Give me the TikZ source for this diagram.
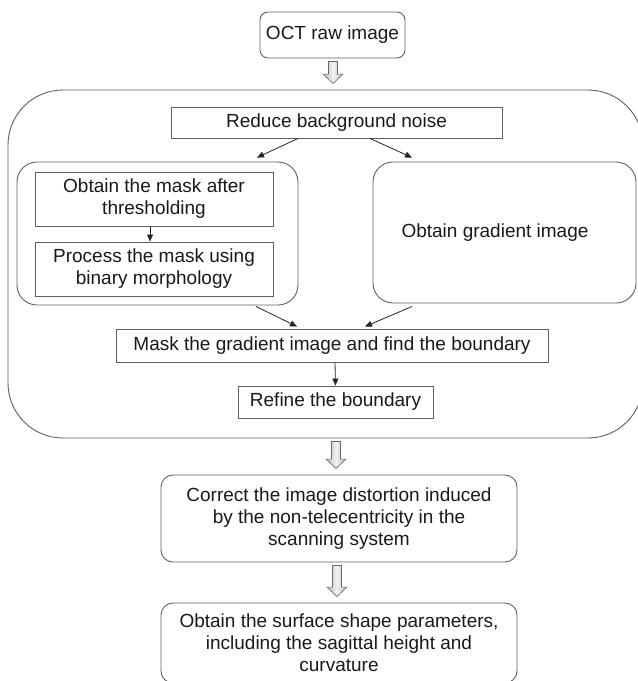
\documentclass[tikz,border=0pt]{standalone}
\usepackage{fontspec}
\setmainfont{Liberation Sans}
\usetikzlibrary{arrows.meta,calc}
\definecolor{boxgray}{RGB}{95,95,95}
\definecolor{txt}{RGB}{25,25,25}
\newcommand\blockarrow[3]{%
  \path[barrow] let \p1=([yshift=-3pt]#1.south), \p2=([yshift=6pt]#2.north) in
    (#3pt-4.5pt,\y1) -- (#3pt+4.5pt,\y1) -- (#3pt+4.5pt,\y2+9.5pt) -- (#3pt+10pt,\y2+9.5pt)
    -- (#3pt,\y2) -- (#3pt-10pt,\y2+9.5pt) -- (#3pt-4.5pt,\y2+9.5pt) -- cycle;}
\begin{document}
\begin{tikzpicture}[x=1pt,y=-1pt,
  sq/.style={draw=boxgray, line width=0.9pt, text=txt, font=\fontsize{19}{22}\selectfont,
    align=center, inner sep=0pt},
  rnd/.style={sq, rounded corners=#1},
  barrow/.style={draw=gray!80!black, line width=0.6pt, left color=gray!55, right color=gray!55, middle color=gray!10},
  conn/.style={-{Triangle[length=7pt,width=6pt]}, line width=0.8pt, draw=black!85}]
\useasboundingbox (0,0) rectangle (638,681);
\clip (0,0) rectangle (638,681);

\node[rnd=8pt, minimum width=145pt, minimum height=46pt] (oct) at (332.5,35) {OCT raw image};
\node[rnd=55pt, minimum width=635pt, minimum height=348pt] (big) at (325.5,264) {};
\node[sq, minimum width=331pt, minimum height=31pt] (reduce) at (336.5,122.5) {Reduce background noise};
\node[rnd=20pt, minimum width=281pt, minimum height=143pt] (left) at (157.5,233.5) {};
\node[sq, minimum width=238pt, minimum height=54pt] (in1) at (154,199) {Obtain the mask after\\thresholding};
\node[sq, minimum width=238pt, minimum height=54pt] (in2) at (154,269) {Process the mask using\\binary morphology};
\node[rnd=20pt, minimum width=263pt, minimum height=141pt] (right) at (504.5,232.5) {Obtain gradient image\hspace*{19pt}};
\node[sq, minimum width=432pt, minimum height=33pt] (mask) at (332,345.5) {Mask the gradient image and find the boundary};
\node[sq, minimum width=195pt, minimum height=32pt] (refine) at (335.5,402) {Refine the boundary};
\node[rnd=12pt, minimum width=356pt, minimum height=87pt] (correct) at (339,518.5) {Correct the image distortion induced\\by the non-telecentricity in the\\scanning system};
\node[rnd=12pt, minimum width=356pt, minimum height=80pt] (obtain) at (339,643) {Obtain the surface shape parameters,\\including the sagittal height and\\curvature};

\blockarrow{oct}{big}{333}
\blockarrow{big}{correct}{336}
\blockarrow{correct}{obtain}{337}

\draw[conn] ([xshift=-38.5pt]reduce.south) -- ([xshift=99.5pt,yshift=4pt]left.north);
\draw[conn] ([xshift=33.5pt]reduce.south) -- ([xshift=-92.5pt,yshift=4pt]right.north);
\draw[conn] ([xshift=98.5pt,yshift=-1pt]left.south) -- ([xshift=-35pt,yshift=2pt]mask.north);
\draw[conn] ([xshift=-92.5pt,yshift=-3pt]right.south) -- ([xshift=33pt,yshift=2pt]mask.north);
\draw[conn] ([xshift=-4pt]in1.south) -- ([xshift=-4pt]in2.north);
\draw[conn] ([xshift=3pt]mask.south) -- (refine.north);
\end{tikzpicture}
\end{document}
